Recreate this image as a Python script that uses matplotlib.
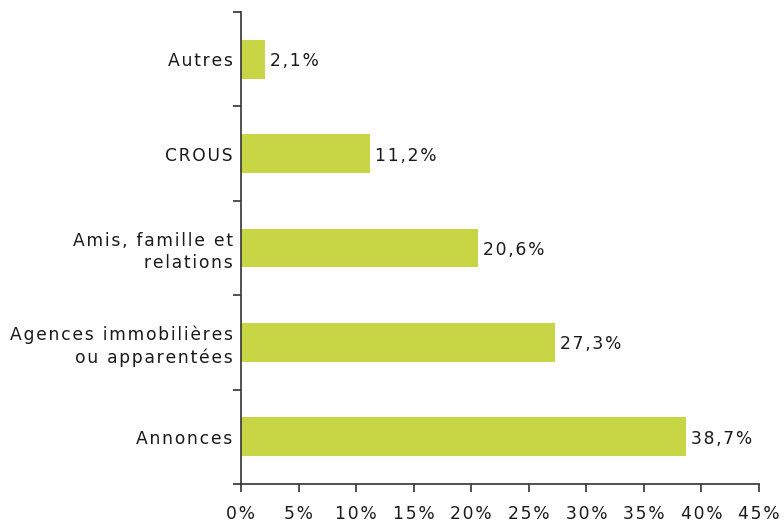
import numpy as np
import matplotlib.pyplot as plt

categories = ["Annonces", "Agences immobilières\nou apparentées", "Amis, famille et\nrelations", "CROUS", "Autres"]
values = [38.7, 27.3, 20.6, 11.2, 2.1]
value_labels = ["38,7%", "27,3%", "20,6%", "11,2%", "2,1%"]
xticks = [0, 5, 10, 15, 20, 25, 30, 35, 40, 45]
xtick_labels = ["0%", "5%", "10%", "15%", "20%", "25%", "30%", "35%", "40%", "45%"]

bar_color = "#c8d545"
text_color = "#1a1a1a"


def spaced(s):
	# wide letter spacing like the original
	return "\n".join("\u200a".join(line) for line in s.split("\n"))


fig = plt.figure(figsize=(7.84, 5.22), dpi=100, facecolor='w')
ax = fig.add_axes([241/784, 38/522, 518/784, 472/522])

y = np.arange(len(categories))
ax.barh(y, values, height=0.41, color=bar_color)
for yi, v, lab in zip(y, values, value_labels):
	ax.text(v + 0.4, yi, spaced(lab), va='center_baseline', ha='left', fontsize=12.3, color=text_color)

ax.set_xlim(0, 45)
ax.set_ylim(-0.5, len(categories) - 0.5)
ax.set_xticks(xticks)
ax.set_xticklabels([spaced(t) for t in xtick_labels], fontsize=12.3, color=text_color)
ax.set_yticks(y)
ax.set_yticklabels([spaced(c) for c in categories], fontsize=12.3, color=text_color, linespacing=1.3, va='center_baseline')
ax.set_yticks(np.arange(-0.5, len(categories)), minor=True)
ax.tick_params(axis='y', which='major', length=0, pad=6)
ax.tick_params(axis='y', which='minor', length=6, width=1.2, color='#333333')
ax.tick_params(axis='x', length=6, width=1.2, color='#333333', pad=9)

for s in ['top', 'right']:
	ax.spines[s].set_visible(False)
for s in ['left', 'bottom']:
	ax.spines[s].set_color('#333333')
	ax.spines[s].set_linewidth(1.2)

plt.savefig("out.png", dpi=100, facecolor='w')
plt.close()
